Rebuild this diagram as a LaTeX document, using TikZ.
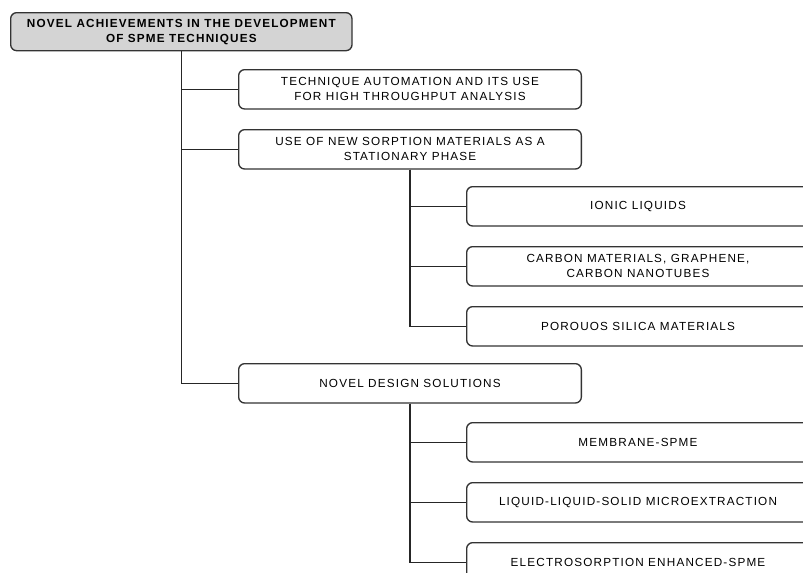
\documentclass[tikz,border=0pt]{standalone}
\usepackage{fontspec}
\setmainfont{Liberation Sans}[LetterSpace=10]
\usepackage{tikz}
\usetikzlibrary{positioning}
\tikzstyle{block} = [rectangle,
			draw=black!80,
			line width=1pt,
			rounded corners=4.5pt,
			text centered,
			align=center,
			font=\fontsize{8.8}{11.25}\selectfont,
			minimum width=257pt,
			minimum height=29.5pt]
\tikzstyle{title} = [block,
			fill=black!17,
			font=\bfseries\fontsize{8.8}{11.25}\selectfont]
\tikzstyle{link} = [line width=1pt, draw=black!85]

\begin{document}
\begin{tikzpicture}[x=0.75pt, y=-0.75pt, node distance=14.5pt]
	\useasboundingbox (0,0) rectangle (803,572);
	\clip (0,0) rectangle (803,572);
	\node [title, anchor=north west, minimum width=256pt, minimum height=28.5pt] (root) at (10,12) {NOVEL ACHIEVEMENTS IN THE DEVELOPMENT\\OF SPME TECHNIQUES};
	\node [block, anchor=north west] (autom) at (238,69) {TECHNIQUE AUTOMATION AND ITS USE\\FOR HIGH THROUGHPUT ANALYSIS};
	\node [block, below=of autom] (sorpt) {USE OF NEW SORPTION MATERIALS AS A\\STATIONARY PHASE};
	\node [block, anchor=north west] (ionic) at (466,186) {IONIC LIQUIDS};
	\node [block, below=of ionic] (carbon) {CARBON MATERIALS, GRAPHENE,\\CARBON NANOTUBES};
	\node [block, below=of carbon] (silica) {POROUOS SILICA MATERIALS};
	\node [block, anchor=north west] (design) at (238,363) {NOVEL DESIGN SOLUTIONS};
	\node [block, anchor=north west] (membr) at (466,422) {MEMBRANE-SPME};
	\node [block, below=of membr] (lls) {LIQUID-LIQUID-SOLID MICROEXTRACTION};
	\node [block, below=of lls] (electro) {ELECTROSORPTION ENHANCED-SPME};
	\draw [link] (root.south) |- (autom.west);
	\draw [link] (root.south) |- (sorpt.west);
	\draw [link] (root.south) |- (design.west);
	\draw [link] (sorpt.south) |- (ionic.west);
	\draw [link] (sorpt.south) |- (carbon.west);
	\draw [link] (sorpt.south) |- (silica.west);
	\draw [link] (design.south) |- (membr.west);
	\draw [link] (design.south) |- (lls.west);
	\draw [link] (design.south) |- (electro.west);
\end{tikzpicture}
\end{document}
